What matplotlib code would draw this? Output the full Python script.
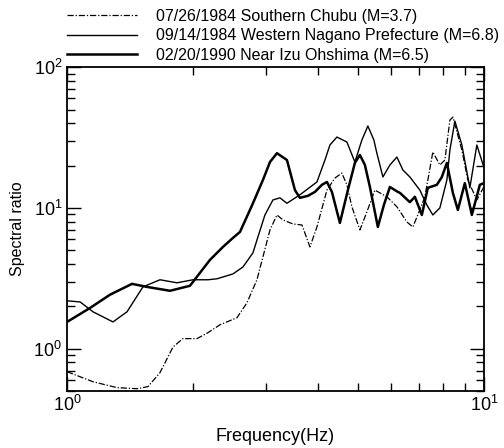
import numpy as np
import matplotlib.pyplot as plt
from matplotlib.ticker import NullFormatter

plt.rcParams['font.family'] = ['Liberation Sans', 'DejaVu Sans']
plt.rcParams['mathtext.fontset'] = 'custom'
plt.rcParams['mathtext.rm'] = 'Liberation Sans'
plt.rcParams['mathtext.it'] = 'Liberation Sans'

# 02/20/1990 Near Izu Ohshima - thick line
f_izu = [1.00, 1.136, 1.268, 1.432, 1.555, 1.766, 1.972, 2.084, 2.203, 2.367, 2.501, 2.600,
         2.793, 2.951, 3.068, 3.189, 3.370, 3.522, 3.620, 3.785, 3.933, 4.088, 4.203, 4.320,
         4.515, 4.719, 4.905, 5.042, 5.184, 5.329, 5.568, 5.757, 5.952, 6.220, 6.290, 6.645,
         6.831, 7.100, 7.339, 7.714, 7.930, 8.153, 8.428, 8.663, 9.003, 9.359, 9.781, 10.0]
r_izu = [1.55, 1.95, 2.42, 2.89, 2.75, 2.58, 2.80, 3.46, 4.28, 5.29, 6.13, 6.76,
         10.8, 15.8, 21.2, 24.5, 21.9, 13.4, 11.8, 12.2, 13.0, 14.6, 15.3, 13.0,
         7.83, 13.4, 20.9, 23.8, 20.2, 14.1, 7.33, 10.5, 14.1, 13.0, 12.8, 11.0,
         12.0, 8.92, 13.9, 14.6, 16.6, 20.9, 12.8, 9.68, 15.0, 8.92, 14.6, 15.0]

# 09/14/1984 Western Nagano Prefecture - thin line
f_nagano = [1.00, 1.075, 1.154, 1.289, 1.393, 1.521, 1.671, 1.836, 2.005, 2.178, 2.290, 2.501,
            2.643, 2.793, 2.871, 2.984, 3.119, 3.242, 3.370, 3.620, 3.977, 4.157, 4.273, 4.441,
            4.693, 4.905, 5.098, 5.270, 5.447, 5.538, 5.726, 5.952, 6.186, 6.395, 6.645, 7.022,
            7.299, 7.545, 7.843, 8.153, 8.290, 8.522, 8.857, 9.256, 9.621, 10.0]
r_nagano = [2.19, 2.15, 1.83, 1.55, 1.83, 2.75, 3.09, 2.94, 3.09, 3.09, 3.14, 3.40,
            3.81, 4.80, 6.23, 8.92, 11.4, 11.8, 10.8, 12.4, 15.3, 21.9, 28.0, 31.9,
            29.4, 21.2, 30.4, 38.2, 30.4, 24.5, 16.6, 20.2, 23.0, 18.6, 16.6, 13.4,
            10.5, 8.92, 10.0, 15.8, 25.8, 41.4, 28.0, 13.9, 28.0, 19.5]

# 07/26/1984 Southern Chubu - dash-dot line
f_chubu = [1.00, 1.154, 1.318, 1.472, 1.564, 1.671, 1.796, 1.897, 2.050, 2.178, 2.328, 2.557,
           2.702, 2.855, 2.951, 3.068, 3.189, 3.296, 3.483, 3.661, 3.826, 3.977, 4.203, 4.392,
           4.564, 4.693, 4.824, 5.042, 5.241, 5.477, 5.854, 6.186, 6.535, 6.755, 7.022, 7.219,
           7.545, 7.843, 8.064, 8.290, 8.428, 8.857, 9.154, 9.621, 10.0]
r_chubu = [0.687, 0.583, 0.529, 0.52, 0.538, 0.676, 1.03, 1.18, 1.18, 1.30, 1.48, 1.66,
           2.12, 3.09, 4.49, 6.98, 8.92, 8.22, 7.70, 7.57, 5.29, 7.33, 13.4, 16.3,
           17.7, 14.6, 10.2, 6.98, 9.37, 13.4, 12.0, 10.2, 7.96, 7.33, 9.68, 12.0,
           25.0, 20.2, 21.9, 42.1, 44.2, 25.8, 15.8, 11.4, 14.1]

labels = ['07/26/1984 Southern Chubu (M=3.7)',
          '09/14/1984 Western Nagano Prefecture (M=6.8)',
          '02/20/1990 Near Izu Ohshima (M=6.5)']

fig = plt.figure(figsize=(5.04, 4.48), dpi=100)
ax = fig.add_axes([0.133, 0.127, 0.827, 0.723])

ax.plot(f_chubu, r_chubu, color='black', lw=0.9, linestyle=(0, (5, 1.5, 1, 1.5)), label=labels[0])
ax.plot(f_nagano, r_nagano, color='black', lw=1.0, label=labels[1])
ax.plot(f_izu, r_izu, color='black', lw=1.8, label=labels[2])

ax.set_xscale('log')
ax.set_yscale('log')
ax.set_xlim(1, 10)
ax.set_ylim(0.5, 100)
ax.xaxis.set_minor_formatter(NullFormatter())
ax.yaxis.set_minor_formatter(NullFormatter())

ax.tick_params(which='both', direction='in', top=True, right=True, labelsize=13)
ax.tick_params(which='major', length=10, width=1)
ax.tick_params(which='minor', length=6, width=1)
ax.tick_params(axis='x', pad=3)
for s in ax.spines.values():
    s.set_linewidth(1.3)

ax.set_xlabel('Frequency(Hz)', fontsize=13, labelpad=9)
ax.set_ylabel('Spectral ratio', fontsize=11.5, labelpad=6)

ax.legend(loc='upper left', bbox_to_anchor=(0.133, 0.98), bbox_transform=fig.transFigure,
          frameon=False, fontsize=11.5, handlelength=4.4, handletextpad=1.15,
          labelspacing=0.28, borderpad=0, borderaxespad=0)

fig.savefig('out.png', dpi=100)
